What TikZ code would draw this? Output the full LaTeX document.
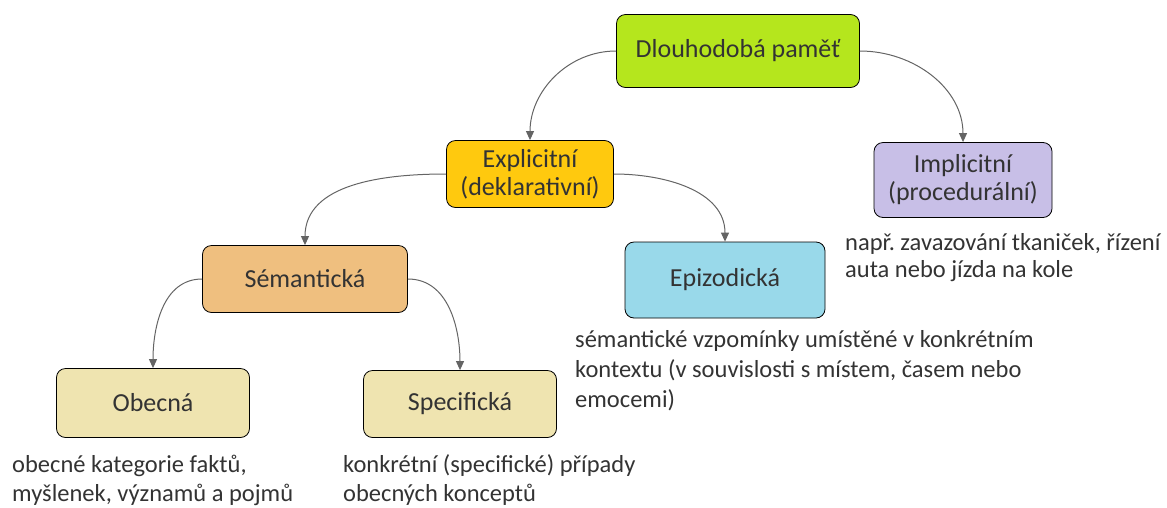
\documentclass[tikz,border=0pt]{standalone}
\usepackage{fontspec}
\setmainfont{Carlito}
\usetikzlibrary{arrows.meta}
\definecolor{cgreen}{RGB}{181,230,29}
\definecolor{cyellow}{RGB}{255,201,14}
\definecolor{clav}{RGB}{200,191,231}
\definecolor{corange}{RGB}{239,191,127}
\definecolor{cblue}{RGB}{153,217,234}
\definecolor{cbeige}{RGB}{239,228,176}
\definecolor{ctext}{RGB}{51,51,51}
\definecolor{carrow}{RGB}{100,100,100}
\frenchspacing
\begin{document}
\begin{tikzpicture}[x=1pt,y=-1pt,
  box/.style={draw=black,line width=0.8pt,rounded corners=9pt,text=ctext,align=center,inner sep=0pt,font=\fontsize{26}{28}\selectfont},
  note/.style={anchor=base west,text=ctext,inner sep=0pt,font=\fontsize{24.5}{30}\selectfont},
  conn/.style={draw=carrow,line width=1pt,-{Triangle[length=9pt,width=8pt]}}]
\useasboundingbox (0,0) rectangle (1167,507);
\node[box,fill=cgreen,minimum width=243pt,minimum height=73pt] (dp) at (738,51) {Dlouhodobá paměť};
\node[box,fill=cyellow,minimum width=167pt,minimum height=67pt] (ex) at (530,174) {Explicitní\\(deklarativní)};
\node[box,fill=clav,minimum width=178pt,minimum height=75pt] (im) at (963,180) {Implicitní\\(procedurální)};
\node[box,fill=corange,minimum width=205pt,minimum height=67pt] (se) at (305,279) {Sémantická};
\node[box,fill=cblue,minimum width=200pt,minimum height=76pt] (ep) at (725,280) {Epizodická};
\node[box,fill=cbeige,minimum width=193pt,minimum height=69pt] (ob) at (153,403) {Obecná};
\node[box,fill=cbeige,minimum width=193pt,minimum height=67pt] (sp) at (460,404) {Specifická};
\draw[conn] (dp.west) to[out=180,in=90] (ex.north);
\draw[conn] (dp.east) to[out=0,in=90] (im.north);
\draw[conn] (ex.west) to[out=180,in=90] (se.north);
\draw[conn] (ex.east) to[out=0,in=90] (ep.north);
\draw[conn] (se.west) to[out=180,in=90] (ob.north);
\draw[conn] (se.east) to[out=0,in=90] (sp.north);
\node[note] (n1a) at (845,250) {např. zavazování tkaniček, řízení};
\node[note] (n1b) at (845,277) {auta nebo jízda na kole};
\node[note] (n2a) at (575,347) {sémantické vzpomínky umístěné v konkrétním};
\node[note] (n2b) at (575,377) {kontextu (v souvislosti s místem, časem nebo};
\node[note] (n2c) at (575,407) {emocemi)};
\node[note] (n3a) at (12,472) {obecné kategorie faktů,};
\node[note] (n3b) at (12,501) {myšlenek, významů a pojmů};
\node[note] (n4a) at (343,472) {konkrétní (specifické) případy};
\node[note] (n4b) at (343,501) {obecných konceptů};
\end{tikzpicture}
\end{document}
